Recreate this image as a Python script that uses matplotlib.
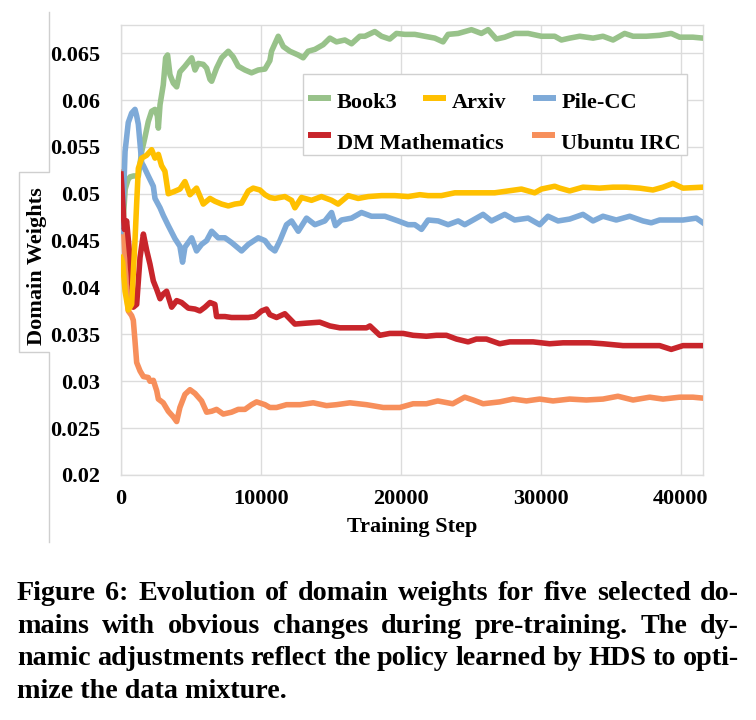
import matplotlib
matplotlib.use("Agg")
import matplotlib.pyplot as plt
from matplotlib.lines import Line2D
from matplotlib.patches import Rectangle

W, H = 756, 720

# ---- data (training step, domain weight) ----
book3_steps = [0, 150, 300, 500, 650, 900, 1240, 1480, 1710, 1950, 2190, 2430, 2600, 2670,
               2790, 3020, 3190, 3330, 3500, 3740, 3980, 4210, 4570, 5050, 5290, 5520, 5880,
               6120, 6360, 6480, 6830, 7190, 7670, 8020, 8380, 8860, 9330, 9810, 10290, 10640,
               10760, 11240, 11600, 12070, 12670, 13020, 13380, 13860, 14450, 14930, 15400,
               16000, 16480, 17070, 17430, 18140, 18620, 19210, 19690, 20290, 21000, 21710,
               22430, 23020, 23380, 24100, 25050, 25760, 26240, 26830, 27430, 28140, 29100,
               30050, 31000, 31480, 32070, 32790, 33740, 34450, 35170, 36000, 36600, 37550,
               38500, 39330, 39930, 40880, 41600]
book3 = [0.0462, 0.0470, 0.0505, 0.0515, 0.0518, 0.0519, 0.0519, 0.0545, 0.0560, 0.0577,
         0.0588, 0.0590, 0.0583, 0.0570, 0.0595, 0.0616, 0.0645, 0.0648, 0.0627, 0.0618,
         0.0614, 0.0630, 0.0636, 0.0645, 0.0632, 0.0639, 0.0638, 0.0634, 0.0622, 0.0620,
         0.0634, 0.0645, 0.0652, 0.0646, 0.0636, 0.0632, 0.0629, 0.0632, 0.0633, 0.0642,
         0.0652, 0.0668, 0.0657, 0.0652, 0.0648, 0.0645, 0.0652, 0.0654, 0.0659, 0.0666,
         0.0662, 0.0664, 0.0660, 0.0668, 0.0668, 0.0673, 0.0668, 0.0665, 0.0671, 0.0670,
         0.0670, 0.0668, 0.0666, 0.0662, 0.0670, 0.0671, 0.0675, 0.0671, 0.0675, 0.0665,
         0.0667, 0.0671, 0.0671, 0.0668, 0.0668, 0.0664, 0.0666, 0.0668, 0.0666, 0.0668,
         0.0664, 0.0671, 0.0668, 0.0668, 0.0669, 0.0671, 0.0667, 0.0667, 0.0666]

arxiv_steps = [0, 120, 290, 520, 760, 1000, 1120, 1240, 1480, 1830, 2190, 2430, 2670, 2900,
               3140, 3380, 3740, 4210, 4570, 4930, 5400, 5880, 6360, 6710, 7190, 7670, 8140,
               8620, 9100, 9450, 9930, 10290, 10640, 11000, 11710, 12190, 12430, 12900, 13620,
               14330, 15050, 15520, 16240, 16950, 17670, 18620, 19570, 20520, 21360, 21950,
               22900, 23860, 24810, 25760, 26710, 27670, 28620, 29570, 30050, 31000, 31360,
               32070, 33020, 34210, 35170, 36120, 37070, 38020, 38740, 39450, 40170, 41600]
arxiv = [0.0432, 0.0427, 0.0396, 0.0376, 0.0382, 0.0450, 0.0490, 0.0527, 0.0538, 0.0541,
         0.0547, 0.0538, 0.0542, 0.0530, 0.0524, 0.0500, 0.0502, 0.0505, 0.0513, 0.0499,
         0.0506, 0.0489, 0.0495, 0.0492, 0.0489, 0.0487, 0.0489, 0.0490, 0.0503, 0.0506,
         0.0504, 0.0499, 0.0496, 0.0495, 0.0497, 0.0493, 0.0485, 0.0496, 0.0493, 0.0497,
         0.0493, 0.0489, 0.0498, 0.0495, 0.0497, 0.0498, 0.0498, 0.0497, 0.0499, 0.0498,
         0.0498, 0.0501, 0.0501, 0.0501, 0.0501, 0.0503, 0.0505, 0.0501, 0.0505, 0.0508,
         0.0506, 0.0503, 0.0507, 0.0506, 0.0507, 0.0507, 0.0506, 0.0504, 0.0507, 0.0511,
         0.0506, 0.0507]

pilecc_steps = [0, 120, 290, 520, 760, 1000, 1120, 1240, 1480, 1600, 1950, 2310, 2430, 2790,
                3020, 3380, 3860, 4210, 4400, 4570, 5050, 5400, 5760, 6120, 6480, 6950, 7430,
                7900, 8620, 9100, 9810, 10290, 10640, 11000, 11360, 11830, 12190, 12670,
                13260, 13860, 14570, 15050, 15330, 15760, 16480, 17190, 17900, 18860, 19810,
                20520, 21000, 21480, 21950, 22670, 23380, 24100, 24570, 25170, 25880, 26480,
                27430, 28140, 29100, 29930, 30520, 31240, 32070, 33020, 33740, 34450, 35400,
                36360, 37310, 37900, 38500, 39210, 40170, 41120, 41600]
pilecc = [0.0460, 0.0470, 0.0545, 0.0576, 0.0586, 0.0590, 0.0583, 0.0574, 0.0533, 0.0530,
          0.0519, 0.0508, 0.0495, 0.0485, 0.0477, 0.0466, 0.0452, 0.0444, 0.0427, 0.0443,
          0.0453, 0.0439, 0.0446, 0.0450, 0.0460, 0.0453, 0.0453, 0.0448, 0.0439, 0.0446,
          0.0453, 0.0450, 0.0443, 0.0439, 0.0450, 0.0467, 0.0471, 0.0460, 0.0474, 0.0467,
          0.0471, 0.0480, 0.0466, 0.0472, 0.0474, 0.0480, 0.0476, 0.0476, 0.0471, 0.0467,
          0.0467, 0.0462, 0.0472, 0.0471, 0.0467, 0.0471, 0.0467, 0.0472, 0.0478, 0.0471,
          0.0478, 0.0472, 0.0474, 0.0467, 0.0476, 0.0471, 0.0473, 0.0478, 0.0471, 0.0476,
          0.0472, 0.0476, 0.0471, 0.0469, 0.0472, 0.0472, 0.0472, 0.0474, 0.0469]

dm_steps = [0, 50, 240, 400, 640, 880, 1120, 1360, 1600, 1830, 2070, 2310, 2550, 2790, 3020,
            3260, 3620, 3980, 4330, 4810, 5290, 5640, 6000, 6360, 6710, 6830, 7430, 7900,
            8620, 9100, 9570, 10050, 10400, 10640, 11120, 11710, 12430, 13260, 14210, 14930,
            15640, 16600, 17550, 17790, 18500, 19210, 20170, 20880, 21830, 22550, 23260,
            23980, 24810, 25400, 26120, 27070, 27790, 28740, 29450, 30640, 31600, 32550,
            33500, 34450, 35880, 37310, 38500, 39330, 40170, 41600]
dm_math = [0.0521, 0.0510, 0.0462, 0.0471, 0.0432, 0.0379, 0.0382, 0.0432, 0.0457, 0.0440,
           0.0425, 0.0407, 0.0398, 0.0388, 0.0393, 0.0396, 0.0379, 0.0386, 0.0384, 0.0378,
           0.0377, 0.0375, 0.0379, 0.0384, 0.0382, 0.0369, 0.0369, 0.0368, 0.0368, 0.0368,
           0.0369, 0.0375, 0.0377, 0.0371, 0.0368, 0.0372, 0.0361, 0.0362, 0.0363, 0.0359,
           0.0357, 0.0357, 0.0357, 0.0359, 0.0349, 0.0351, 0.0351, 0.0349, 0.0348, 0.0349,
           0.0349, 0.0345, 0.0342, 0.0345, 0.0345, 0.0340, 0.0342, 0.0342, 0.0342, 0.0340,
           0.0341, 0.0341, 0.0341, 0.0340, 0.0338, 0.0338, 0.0338, 0.0334, 0.0338, 0.0338]

ubuntu_steps = [0, 50, 170, 400, 520, 760, 880, 1000, 1120, 1360, 1600, 1950, 2070, 2310,
                2550, 2670, 3020, 3380, 3740, 3980, 4210, 4570, 4930, 5290, 5760, 6120, 6480,
                6830, 7310, 7900, 8380, 8860, 9330, 9690, 10290, 10640, 11120, 11830, 12790,
                13740, 14690, 15400, 16360, 17550, 18740, 19930, 20880, 21830, 22640, 23710,
                24570, 25170, 25880, 27070, 28020, 28980, 29930, 30880, 32070, 33260, 34450,
                35520, 36600, 37790, 38740, 39930, 40880, 41600]
ubuntu_irc = [0.0523, 0.0515, 0.0467, 0.0396, 0.0375, 0.0370, 0.0365, 0.0343, 0.0320,
              0.0311, 0.0305, 0.0304, 0.0300, 0.0301, 0.0290, 0.0281, 0.0277, 0.0268, 0.0262,
              0.0257, 0.0272, 0.0286, 0.0291, 0.0287, 0.0279, 0.0267, 0.0268, 0.0270, 0.0265,
              0.0267, 0.0270, 0.0270, 0.0275, 0.0278, 0.0275, 0.0272, 0.0272, 0.0275, 0.0275,
              0.0277, 0.0274, 0.0275, 0.0277, 0.0275, 0.0272, 0.0272, 0.0276, 0.0276, 0.0279,
              0.0276, 0.0283, 0.0280, 0.0276, 0.0278, 0.0281, 0.0279, 0.0281, 0.0279, 0.0281,
              0.0280, 0.0281, 0.0284, 0.0280, 0.0283, 0.0281, 0.0283, 0.0283, 0.0282]

y_ticks = [0.02, 0.025, 0.03, 0.035, 0.04, 0.045, 0.05, 0.055, 0.06, 0.065]
y_tick_labels = ["0.02", "0.025", "0.03", "0.035", "0.04", "0.045", "0.05", "0.055", "0.06", "0.065"]
x_ticks = [0, 10000, 20000, 30000, 40000]
x_tick_labels = ["0", "10000", "20000", "30000", "40000"]

caption_lines = [
    "Figure 6: Evolution of domain weights for five selected do-",
    "mains with obvious changes during pre-training. The dy-",
    "namic adjustments reflect the policy learned by HDS to opti-",
    "mize the data mixture.",
]

GREEN = "#98c28a"
YELLOW = "#ffc000"
BLUE = "#7eaad8"
RED = "#c8252b"
ORANGE = "#f78f5b"
GRID = "#dcdcdc"
SERIF = "Liberation Serif"
LW = 4.0


def px(x, y):
    # pixel position in the 756x720 picture -> figure fraction
    return x / W, 1 - y / H


fig = plt.figure(figsize=(W / 100, H / 100), dpi=100)
ax = fig.add_axes([121 / W, 1 - 475 / H, (703 - 121) / W, (475 - 25) / H])

ax.plot(book3_steps, book3, color=GREEN, lw=LW, solid_joinstyle="round", zorder=3)
ax.plot(ubuntu_steps, ubuntu_irc, color=ORANGE, lw=LW, solid_joinstyle="round", zorder=3)
ax.plot(pilecc_steps, pilecc, color=BLUE, lw=LW, solid_joinstyle="round", zorder=3)
ax.plot(dm_steps, dm_math, color=RED, lw=LW, solid_joinstyle="round", zorder=3)
ax.plot(arxiv_steps, arxiv, color=YELLOW, lw=LW, solid_joinstyle="round", zorder=3)

ax.set_xlim(0, 41600)
ax.set_ylim(0.02, 0.068)
ax.set_yticks(y_ticks)
ax.set_yticklabels(y_tick_labels)
ax.set_xticks(x_ticks)
ax.set_xticklabels(x_tick_labels)
ax.tick_params(length=0, labelsize=16)
ax.tick_params(axis="y", pad=15)
ax.tick_params(axis="x", pad=10)
for lab in ax.get_xticklabels() + ax.get_yticklabels():
    lab.set_fontfamily(SERIF)
    lab.set_fontweight("bold")
ax.grid(True, color=GRID, lw=1.0)
ax.set_axisbelow(True)
for sp in ax.spines.values():
    sp.set_color(GRID)
    sp.set_linewidth(1.0)

fig.text(*px(37, 266), "Domain Weights", rotation=90, ha="center", va="center",
         fontsize=16, fontweight="bold", family=SERIF)
fig.text(*px(412, 527), "Training Step", ha="center", va="center",
         fontsize=16, fontweight="bold", family=SERIF)

# odd frame line around the y label (from the source spreadsheet chart)
fx, fy = zip(*[px(49, 12), px(49, 172), px(19, 172), px(19, 352), px(49, 352), px(49, 542)])
fig.add_artist(Line2D(fx, fy, color="#cfcfcf", lw=1.0))

# legend drawn by hand: 3 entries on the first row, 2 on the second
x0, y0 = px(303, 155)
x1, y1 = px(687, 74)
fig.add_artist(Rectangle((x0, y0), x1 - x0, y1 - y0, transform=fig.transFigure,
                         facecolor="white", edgecolor="#d0d0d0", lw=1.0, zorder=5))
legend_items = [
    ("Book3", GREEN, 308, 98, 108),
    ("Arxiv", YELLOW, 423, 98, 108),
    ("Pile-CC", BLUE, 533, 98, 108),
    ("DM Mathematics", RED, 308, 135, 149),
    ("Ubuntu IRC", ORANGE, 532, 135, 149),
]
for name, col, hx, hy, by in legend_items:
    lx, ly = zip(px(hx, hy), px(hx + 23, hy))
    fig.add_artist(Line2D(lx, ly, color=col, lw=LW + 0.3, solid_capstyle="butt", zorder=6))
    fig.text(*px(hx + 29, by), name, ha="left", va="baseline", fontsize=16,
             fontweight="bold", family=SERIF, zorder=6)

# justified caption: pick the largest size whose lines still fit with normal spacing
renderer = fig.canvas.get_renderer()
left, right = 17, 739
baselines = [600, 633, 665, 698]


def word_widths(words, size):
    out = []
    for wd in words:
        t = fig.text(0, 0, wd, fontsize=size, fontweight="bold", family=SERIF)
        out.append(t.get_window_extent(renderer).width)
        t.remove()
    return out


cap_size = 22.0
while cap_size > 14:
    fits = True
    for line in caption_lines[:-1]:
        words = line.split()
        ww = word_widths(words, cap_size)
        if sum(ww) + 0.22 * cap_size * 100 / 72 * (len(words) - 1) > right - left:
            fits = False
            break
    if fits:
        break
    cap_size -= 0.25

cap_kw = dict(fontsize=cap_size, fontweight="bold", family=SERIF, va="baseline", ha="left")
for i, line in enumerate(caption_lines):
    _, yb = px(0, baselines[i])
    if i == len(caption_lines) - 1:
        fig.text(left / W, yb, line, **cap_kw)
        continue
    words = line.split()
    widths = word_widths(words, cap_size)
    gap = (right - left - sum(widths)) / (len(words) - 1)
    x = left
    for wd, w in zip(words, widths):
        fig.text(x / W, yb, wd, **cap_kw)
        x += w + gap

fig.savefig("out.png", dpi=100)
